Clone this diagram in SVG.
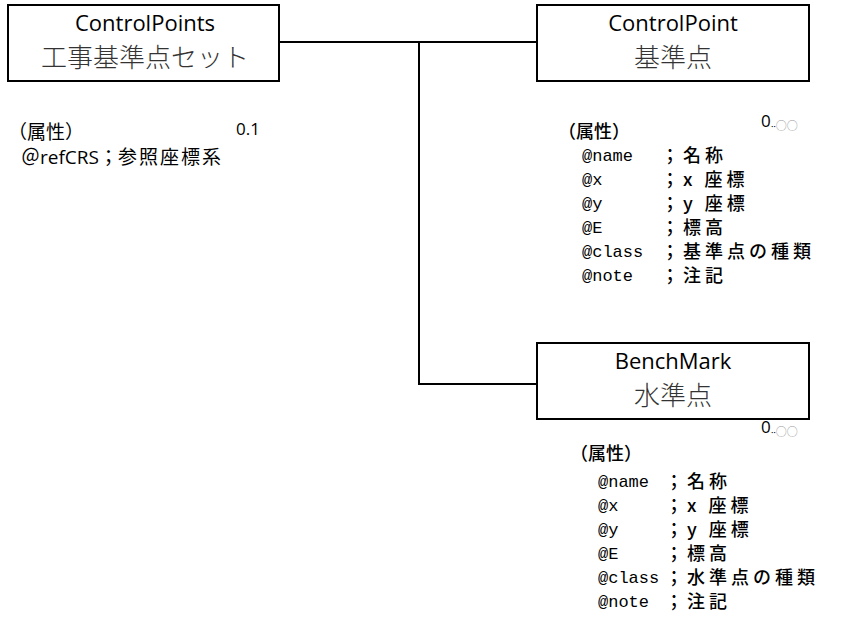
<svg xmlns="http://www.w3.org/2000/svg" width="842" height="642" viewBox="0 0 842 642">
<style>
.box{fill:#fff;stroke:#000;stroke-width:2}
.conn{fill:none;stroke:#000;stroke-width:2}
.en{font-family:"Open Sans","Liberation Sans",sans-serif;font-size:22px;fill:#000;text-anchor:middle}
.jp{font-family:"Noto Sans CJK JP",sans-serif;font-weight:300;font-size:26px;fill:#333;text-anchor:middle}
.lbl{font-family:"Open Sans","Noto Sans CJK JP",sans-serif;font-size:19px;fill:#000}
.hdl{font-family:"Noto Sans CJK JP",sans-serif;font-size:19px;fill:#000}
.hd{font-family:"Noto Sans CJK JP",sans-serif;font-weight:500;font-size:18px;fill:#000}
.at{font-family:"Liberation Mono","Noto Sans CJK JP",monospace;font-size:17px;fill:#000}
.av{font-family:"Noto Sans CJK JP",sans-serif;font-weight:500;font-size:18px;letter-spacing:4px;fill:#000}
.mult{font-family:"Open Sans","Liberation Sans",sans-serif;font-size:17px;fill:#000}
.inf{font-family:"Noto Sans CJK JP",sans-serif;font-size:11px;fill:#999}
</style>
<rect width="842" height="642" fill="#fff"/>
<g id="connectors">
<path class="conn" d="M280,42 H537"/>
<path class="conn" d="M419,42 V384 H537"/>
</g>
<g id="ControlPoints">
<rect class="box" x="8" y="5" width="271" height="76"/>
<text class="en" x="145" y="31">ControlPoints</text>
<text class="jp" x="145" y="67">工事基準点セット</text>
<text class="mult" x="236" y="135">0.1</text>
<text class="hdl" x="8" y="139">（属性）</text>
<text class="lbl" x="21" y="164">＠refCRS；<tspan letter-spacing="2">参照座標系</tspan></text>
</g>
<g id="ControlPoint">
<rect class="box" x="537" y="5" width="272" height="76"/>
<text class="en" x="673" y="31">ControlPoint</text>
<text class="jp" x="673" y="67">基準点</text>
<text class="mult" x="761" y="127">0<tspan font-size="9">‥</tspan><tspan class="inf" dy="3">○○</tspan></text>
<text class="hd" x="558" y="138">（属性）</text>
<text class="at" x="582" y="161">@name</text><text class="av" x="661" y="162">；名称</text>
<text class="at" x="582" y="185">@x</text><text class="av" x="661" y="186">；x 座標</text>
<text class="at" x="582" y="209">@y</text><text class="av" x="661" y="210">；y 座標</text>
<text class="at" x="582" y="233">@E</text><text class="av" x="661" y="234">；標高</text>
<text class="at" x="582" y="257">@class</text><text class="av" x="661" y="258">；基準点の種類</text>
<text class="at" x="582" y="281">@note</text><text class="av" x="661" y="282">；注記</text>
</g>
<g id="BenchMark">
<rect class="box" x="537" y="343" width="272" height="76"/>
<text class="en" x="673" y="369">BenchMark</text>
<text class="jp" x="673" y="405">水準点</text>
<text class="mult" x="761" y="433">0<tspan font-size="9">‥</tspan><tspan class="inf" dy="3">○○</tspan></text>
<text class="hd" x="570" y="460">（属性）</text>
<text class="at" x="598" y="487">@name</text><text class="av" x="665" y="488">；名称</text>
<text class="at" x="598" y="511">@x</text><text class="av" x="665" y="512">；x 座標</text>
<text class="at" x="598" y="535">@y</text><text class="av" x="665" y="536">；y 座標</text>
<text class="at" x="598" y="559">@E</text><text class="av" x="665" y="560">；標高</text>
<text class="at" x="598" y="583">@class</text><text class="av" x="665" y="584">；水準点の種類</text>
<text class="at" x="598" y="607">@note</text><text class="av" x="665" y="608">；注記</text>
</g>
</svg>
